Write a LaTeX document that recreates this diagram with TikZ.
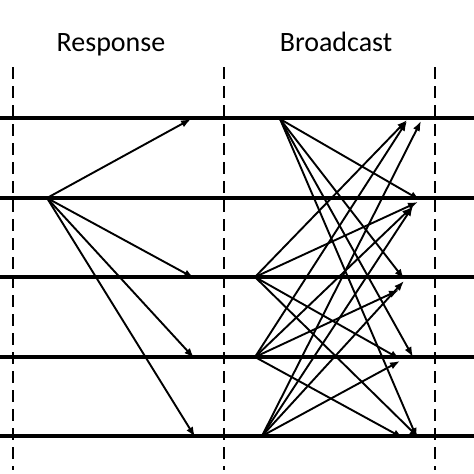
\documentclass[tikz,border=0pt]{standalone}
\usepackage{fontspec}
\setmainfont{Carlito}
\usetikzlibrary{arrows.meta}
\begin{document}
\begin{tikzpicture}[x=1pt,y=-1pt,
  timeline/.style={line width=3.4pt},
  sep/.style={line width=1.8pt, dash pattern=on 12pt off 7pt},
  msg/.style={line width=1.9pt, -{Latex[length=10pt,width=7.5pt]}},
  lbl/.style={font=\fontsize{28}{32}\selectfont, inner sep=0pt, anchor=base}]
\useasboundingbox (0,0) rectangle (474,474);
% labels
\node[lbl] (resp) at (111,51) {Response};
\node[lbl] (bcast) at (336,51) {Broadcast};
% separators
\foreach \x/\n in {13/a,224/b,435/c}{
  \coordinate (t\n) at (\x,67);
  \coordinate (b\n) at (\x,470);
  \draw[sep] (t\n) -- (b\n);
}
% timelines
\foreach \y/\n in {118/1,198/2,277/3,357/4,436/5}{
  \coordinate (L\n) at (0,\y);
  \coordinate (R\n) at (474,\y);
  \draw[timeline] (L\n) -- (R\n);
}
% response
\coordinate (r0) at (47,198);
\coordinate (r1) at (191,119);
\coordinate (r3) at (194,278);
\coordinate (r4) at (194,358);
\coordinate (r5) at (195,437);
\foreach \t in {r1,r3,r4,r5}{ \draw[msg] (r0) -- (\t); }
% broadcast sources
\coordinate (s1) at (280,119);
\coordinate (s3) at (255,277);
\coordinate (s4) at (255,357);
\coordinate (s5) at (262,436);
% targets
\coordinate (d31) at (407,120);
\coordinate (d41) at (407,121);
\coordinate (d51) at (421,121);
\coordinate (d12) at (420,200);
\coordinate (d32) at (418,202);
\coordinate (d42) at (412,207);
\coordinate (d52) at (413,206);
\coordinate (d13) at (404,279);
\coordinate (d43) at (399,290);
\coordinate (d53) at (404,281);
\coordinate (d14) at (413,357);
\coordinate (d34) at (400,359);
\coordinate (d54) at (400,361);
\coordinate (d15) at (417,438);
\coordinate (d35) at (419,438);
\coordinate (d45) at (403,438);
\foreach \s/\t in {s1/d12,s1/d13,s1/d14,s1/d15,
                   s3/d31,s3/d32,s3/d34,s3/d35,
                   s4/d41,s4/d42,s4/d43,s4/d45,
                   s5/d51,s5/d52,s5/d53,s5/d54}{
  \draw[msg] (\s) -- (\t);
}
\end{tikzpicture}
\end{document}
